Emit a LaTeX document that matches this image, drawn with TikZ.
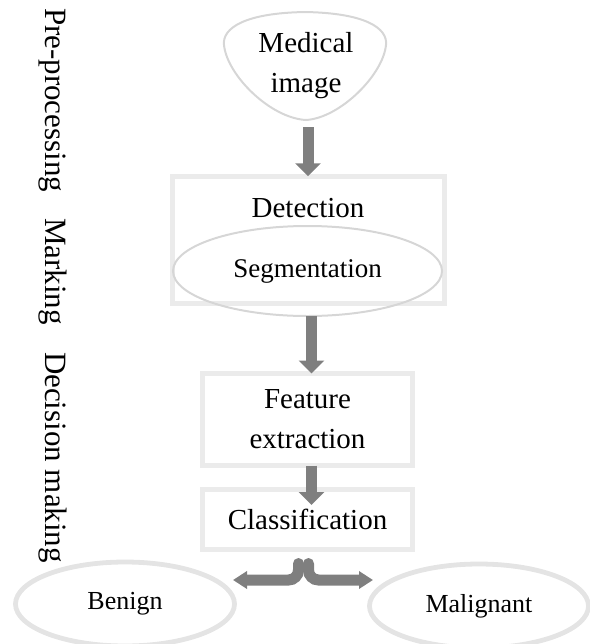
\documentclass[tikz,border=0pt]{standalone}
\usepackage{fontspec}
\setmainfont{Liberation Serif}
\usetikzlibrary{arrows.meta,shapes.geometric}
\definecolor{boxline}{HTML}{EBEBEB}
\definecolor{ovalline}{HTML}{E4E4E4}
\definecolor{thinline}{HTML}{D6D6D6}
\definecolor{flowgray}{HTML}{7F7F7F}

\begin{document}
\begin{tikzpicture}[x=0.5pt,y=-0.5pt,
  every node/.style={inner sep=0pt, outer sep=0pt},
  panel/.style={draw=boxline, line width=2.5pt, rectangle},
  bigoval/.style={draw=ovalline, ellipse, line width=2.4pt},
  lbl/.style={font=\fontsize{14.5pt}{20pt}\selectfont, align=center},
  midlbl/.style={font=\fontsize{13.5pt}{16pt}\selectfont},
  smalllbl/.style={font=\fontsize{13pt}{15pt}\selectfont},
  flow/.style={draw=flowgray, line width=5.5pt, -{Triangle[width=12.5pt,length=6.5pt]}},
  fork/.style={draw=flowgray, line width=5.5pt, line cap=round, rounded corners=5pt,
               -{Triangle[width=8.5pt,length=7pt]}},
  side/.style={font=\fontsize{15.5pt}{18pt}\selectfont, rotate=-90, anchor=base west}
]
\useasboundingbox (0,0) rectangle (590,644);

% stage names along the left edge
\node[side] (pre)  at (46,8)   {Pre-processing};
\node[side] (mark) at (46,218) {Marking};
\node[side] (dec)  at (46,352) {Decision making};

% input
\draw[draw=thinline, line width=1pt]
  (224,45) .. controls (222,28) and (245,13) .. (305,12)
  .. controls (365,13) and (388,28) .. (386,45)
  .. controls (383,75) and (340,118) .. (306,120)
  .. controls (270,118) and (227,75) .. (224,45) -- cycle;
\node[lbl, minimum height=55pt] (med) at (306,66) {Medical\\image};

% detection panel with segmentation inside
\node[panel, minimum width=136pt, minimum height=63.75pt] (det) at (308.5,240) {};
\node[lbl] (detlbl) at (308,208) {Detection};
\node[draw=thinline, ellipse, line width=1pt, minimum width=134.5pt, minimum height=45pt,
      midlbl] (seg) at (307.5,271) {Segmentation};

% feature extraction and classification
\node[panel, minimum width=105pt, minimum height=46pt, lbl] (feat) at (307.5,419.5)
  {Feature\\extraction};
\node[panel, minimum width=105pt, minimum height=30pt, lbl] (cls) at (307.5,519.5)
  {Classification};

% outcomes
\node[bigoval, minimum width=109.5pt, minimum height=42pt, smalllbl] (ben) at (125,604) {Benign};
\node[bigoval, minimum width=109.5pt, minimum height=42pt, smalllbl] (mal) at (479,606) {Malignant};

% flow arrows
\draw[flow, shorten <=3pt] ([xshift=1pt]med.south) -- ([xshift=1pt]med.south |- det.north);
\draw[flow] ([xshift=2pt]seg.south) -- ([xshift=2pt]seg.south |- feat.north);
\draw[flow, shorten >=-7.75pt] ([xshift=2pt]feat.south) -- ([xshift=2pt]feat.south |- cls.north);

% split into the two outcomes
\coordinate (forkL) at (233,580);
\coordinate (forkR) at (373,580);
\draw[fork] ([xshift=-4.5pt,yshift=-7pt]cls.south) |- (forkL);
\draw[fork] ([xshift=0.5pt,yshift=-7pt]cls.south) |- (forkR);
\end{tikzpicture}
\end{document}
